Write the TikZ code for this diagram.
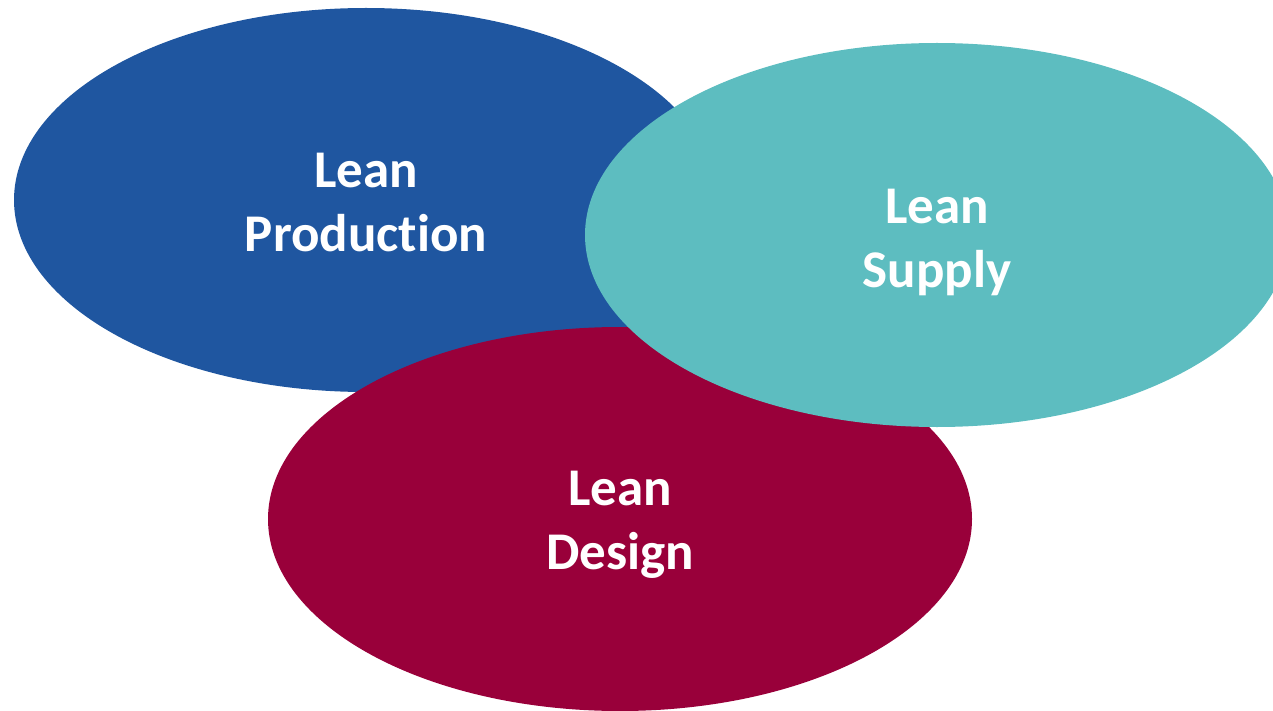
\documentclass[tikz,border=0pt]{standalone}
\usepackage{fontspec}
\setmainfont{Carlito}[Ligatures=NoCommon]
\usetikzlibrary{shapes.geometric}
\definecolor{leanblue}{HTML}{1F56A0}
\definecolor{leanteal}{HTML}{5DBDC0}
\definecolor{leanred}{HTML}{99003A}
\begin{document}
\begin{tikzpicture}[x=1pt,y=-1pt,
  blob/.style={ellipse,minimum width=704pt,minimum height=384pt,inner sep=0pt,draw=none},
  lbl/.style={text=white,font=\fontsize{53}{64}\selectfont\bfseries,align=center}]
\useasboundingbox (0,0) rectangle (1273,711);
\clip (0,0) rectangle (1273,711);
\node[blob,fill=leanblue] (prod) at (366,200) {};
\node[blob,fill=leanred] (design) at (620,519) {};
\node[blob,fill=leanteal] (supply) at (937,235) {};
\node[lbl] (tprod) at (366,203) {Lean\\Production};
\node[lbl] (tsupply) at (937,242) {Lean\\Supply};
\node[lbl] (tdesign) at (620,525) {Lean\\Design};
\end{tikzpicture}
\end{document}
